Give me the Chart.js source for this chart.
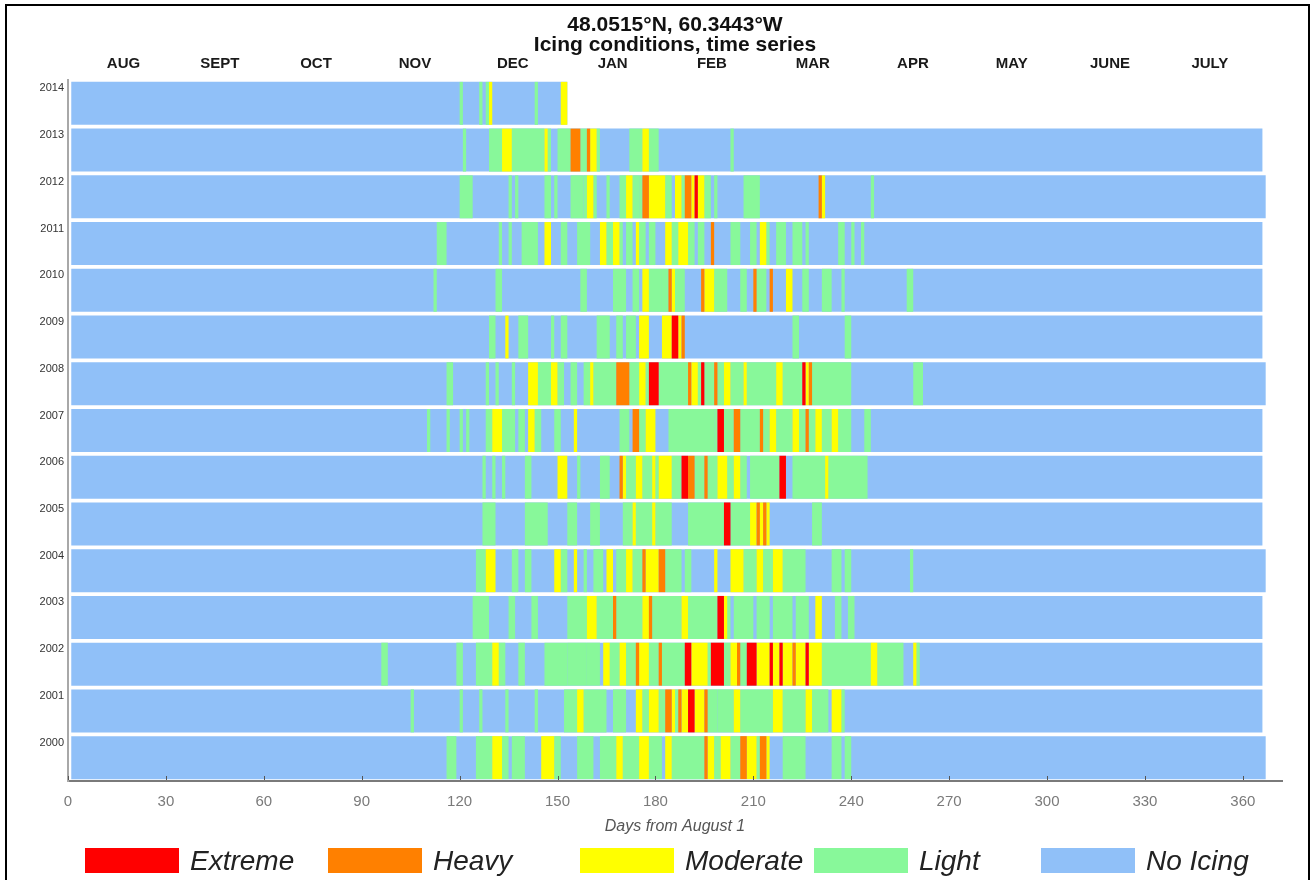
<!DOCTYPE html>
<html>
<head>
<meta charset="utf-8">
<title>Icing conditions, time series</title>
<script src="https://cdn.jsdelivr.net/npm/chart.js@4.4.1/dist/chart.umd.min.js"></script>
<style>
  html, body { margin: 0; padding: 0; background: #fff; }
  #wrap { position: relative; width: 1315px; height: 880px; overflow: hidden; }
  #wrap canvas { position: absolute; left: 0; top: 0; }
  #frame { position: absolute; left: 5px; top: 4px; width: 1305px; height: 920px;
           border: 2px solid #000; box-sizing: border-box; pointer-events: none; }
</style>
</head>
<body>
<div id="wrap">
  <canvas id="chart" width="1315" height="880"></canvas>
  <div id="frame"></div>
</div>
<script>
// Season rows, top to bottom (season starting 1 August of that year)
const years = ['2014', '2013', '2012', '2011', '2010', '2009', '2008', '2007',
               '2006', '2005', '2004', '2003', '2002', '2001', '2000'];
// Last day (exclusive) covered by each season's record
const seasonEnd = [153, 366, 367, 366, 366, 366, 367, 366, 366, 366, 367, 366, 366, 366, 367];

// Icing runs per season: [first day, number of days, level]
// level 1 = Light, 2 = Moderate, 3 = Heavy, 4 = Extreme
const icing2014 = [[120,1,1],[126,1,1],[128,1,1],[129,1,2],[143,1,1],[151,2,2]];
const icing2013 = [[121,1,1],[129,4,1],[133,3,2],[136,10,1],[146,1,2],[147,1,1],[150,4,1],[154,3,3],
  [157,2,1],[159,1,3],[160,2,2],[162,1,1],[172,4,1],[176,2,2],[178,3,1],[203,1,1]];
const icing2012 = [[120,4,1],[135,1,1],[137,1,1],[146,2,1],[149,1,1],[154,4,1],[158,1,1],[159,2,2],
  [161,1,1],[165,1,1],[169,2,1],[171,2,2],[173,2,1],[175,1,1],[176,2,3],[178,5,2],[183,2,1],[186,2,2],
  [188,1,1],[189,2,3],[191,1,2],[192,1,4],[193,2,2],[195,2,1],[198,1,1],[207,5,1],[230,1,3],[231,1,2],
  [246,1,1]];
const icing2011 = [[113,3,1],[132,1,1],[135,1,1],[139,5,1],[146,2,2],[151,2,1],[156,4,1],[163,2,2],
  [165,2,1],[167,2,2],[169,1,1],[171,2,1],[174,1,2],[175,2,1],[178,2,1],[183,2,2],[185,2,1],[187,3,2],
  [190,2,1],[193,2,1],[197,1,3],[203,3,1],[209,2,1],[212,2,2],[214,1,1],[217,3,1],[222,3,1],[226,1,1],
  [236,2,1],[240,1,1],[243,1,1]];
const icing2010 = [[112,1,1],[131,2,1],[157,2,1],[167,4,1],[173,2,1],[176,2,2],[178,4,1],[182,2,1],
  [184,1,3],[185,1,2],[186,3,1],[194,1,3],[195,3,2],[198,4,1],[206,2,1],[210,1,3],[211,3,1],[215,1,3],
  [220,2,2],[225,2,1],[231,3,1],[237,1,1],[257,2,1]];
const icing2009 = [[129,2,1],[134,1,2],[138,3,1],[148,1,1],[151,2,1],[162,4,1],[168,2,1],[171,3,1],
  [175,3,2],[182,3,2],[185,2,4],[187,1,2],[188,1,3],[222,2,1],[238,2,1]];
const icing2008 = [[116,2,1],[128,1,1],[131,1,1],[136,1,1],[141,3,2],[144,4,1],[148,2,2],[150,2,1],
  [154,2,1],[158,2,1],[160,1,2],[161,7,1],[168,4,3],[172,3,1],[175,2,2],[177,1,1],[178,3,4],[181,9,1],
  [190,1,3],[191,2,2],[193,1,1],[194,1,4],[195,3,1],[198,1,3],[199,2,1],[201,2,2],[203,4,1],[207,1,2],
  [208,9,1],[217,2,2],[219,6,1],[225,1,4],[226,1,2],[227,1,3],[228,12,1],[259,3,1]];
const icing2007 = [[110,1,1],[116,1,1],[120,1,1],[122,1,1],[128,2,1],[130,3,2],[133,4,1],[138,2,1],
  [141,2,2],[143,2,1],[149,2,1],[155,1,2],[169,3,1],[173,2,3],[175,2,1],[177,3,2],[184,14,1],[198,1,1],
  [199,2,4],[201,3,1],[204,2,3],[206,6,1],[212,1,3],[213,2,1],[215,2,2],[217,5,1],[222,2,2],[224,2,1],
  [226,1,3],[227,2,1],[229,2,2],[231,3,1],[234,2,2],[236,4,1],[244,2,1]];
const icing2006 = [[127,1,1],[130,1,1],[133,1,1],[140,2,1],[150,3,2],[156,1,1],[163,3,1],[169,1,3],
  [170,1,2],[171,3,1],[174,2,2],[176,3,1],[179,1,2],[180,1,1],[181,4,2],[185,3,1],[188,2,4],[190,2,3],
  [192,3,1],[195,1,3],[196,3,1],[199,3,2],[202,2,1],[204,2,2],[206,2,1],[209,9,1],[218,2,4],[222,10,1],
  [232,1,2],[233,12,1]];
const icing2005 = [[127,4,1],[140,7,1],[153,3,1],[160,3,1],[170,3,1],[173,1,2],[174,5,1],[179,1,2],
  [180,5,1],[190,11,1],[201,2,4],[203,6,1],[209,2,2],[211,1,3],[212,1,2],[213,1,3],[214,1,2],[228,3,1]];
const icing2004 = [[125,3,1],[128,3,2],[136,2,1],[140,2,1],[149,2,2],[151,2,1],[155,1,2],[158,1,1],
  [161,3,1],[165,2,2],[168,3,1],[171,2,2],[173,3,1],[176,1,3],[177,4,2],[181,2,3],[183,5,1],[189,2,1],
  [198,1,2],[203,4,2],[207,4,1],[211,2,2],[213,3,1],[216,3,2],[219,7,1],[234,3,1],[238,2,1],[258,1,1]];
const icing2003 = [[124,5,1],[135,2,1],[142,2,1],[153,6,1],[159,3,2],[162,5,1],[167,1,3],[168,8,1],
  [176,2,2],[178,1,3],[179,9,1],[188,2,2],[190,9,1],[199,2,4],[201,1,2],[202,1,1],[204,6,1],[211,4,1],
  [216,6,1],[223,4,1],[229,2,2],[235,2,1],[239,2,1]];
const icing2002 = [[96,2,1],[119,2,1],[125,5,1],[130,2,2],[132,2,1],[138,2,1],[146,7,1],[153,6,1],
  [159,4,1],[164,2,2],[166,3,1],[169,2,2],[171,3,1],[174,1,3],[175,3,2],[178,3,1],[181,1,3],[182,7,1],
  [189,2,4],[191,5,2],[196,1,1],[197,4,4],[201,2,1],[203,2,2],[205,1,3],[206,2,1],[208,3,4],[211,4,2],
  [215,1,4],[216,2,2],[218,1,4],[219,3,2],[222,1,3],[223,3,2],[226,1,4],[227,4,2],[231,15,1],[246,2,2],
  [248,8,1],[259,1,2],[260,1,1]];
const icing2001 = [[105,1,1],[120,1,1],[126,1,1],[134,1,1],[143,1,1],[152,4,1],[156,2,2],[158,7,1],
  [167,4,1],[174,2,2],[176,2,1],[178,3,2],[181,2,1],[183,2,3],[185,1,2],[186,1,1],[187,1,3],[188,2,2],
  [190,2,4],[192,3,2],[195,1,3],[196,3,1],[199,5,1],[204,2,2],[206,10,1],[216,3,2],[219,7,1],[226,2,2],
  [228,5,1],[234,3,2],[237,1,1]];
const icing2000 = [[116,3,1],[125,5,1],[130,3,2],[133,2,1],[136,4,1],[145,4,2],[149,2,1],[156,5,1],
  [163,5,1],[168,2,2],[170,5,1],[175,3,2],[178,4,1],[183,2,2],[185,10,1],[195,1,3],[196,2,2],[198,2,1],
  [200,3,2],[203,3,1],[206,2,3],[208,3,2],[211,1,1],[212,2,3],[214,1,2],[219,7,1],[234,3,1],[238,2,1]];

const seasonRuns = [icing2014, icing2013, icing2012, icing2011, icing2010, icing2009, icing2008, icing2007,
                    icing2006, icing2005, icing2004, icing2003, icing2002, icing2001, icing2000];

// Axis labelling
const dayTicks = [0, 30, 60, 90, 120, 150, 180, 210, 240, 270, 300, 330, 360];
const monthNames = ['AUG', 'SEPT', 'OCT', 'NOV', 'DEC', 'JAN', 'FEB', 'MAR', 'APR', 'MAY', 'JUNE', 'JULY'];
const monthDays = [17, 46.5, 76, 106.3, 136.3, 166.9, 197.3, 228.2, 258.9, 289.2, 319.3, 349.9];
const titleLines = ['48.0515\u00b0N, 60.3443\u00b0W', 'Icing conditions, time series'];

const levelColors = { 1: '#88f89a', 2: '#ffff00', 3: '#ff8000', 4: '#ff0000' };
const noIcingColor = '#90c0f8';
const FONT = '"Liberation Sans", Arial, Helvetica, sans-serif';

function runsAtLevel(level) {
  const out = [];
  years.forEach((yr, i) => {
    seasonRuns[i].forEach(([start, days, lv]) => {
      if (lv === level) out.push({ x: [start, start + days], y: yr });
    });
  });
  return out;
}

const barStyle = { grouped: false, barPercentage: 0.92, categoryPercentage: 1, borderWidth: 0 };

// Titles, month names, inward tick marks and the legend strip
const decorations = {
  id: 'decorations',
  afterDraw(chart) {
    const { ctx, chartArea, scales: { x } } = chart;
    ctx.save();
    const cx = (chartArea.left + chartArea.right) / 2;
    ctx.fillStyle = '#111';
    ctx.textAlign = 'center';
    ctx.textBaseline = 'middle';
    ctx.font = 'bold 21px ' + FONT;
    titleLines.forEach((t, i) => ctx.fillText(t, cx, 25 + i * 20));

    ctx.font = 'bold 15px ' + FONT;
    ctx.fillStyle = '#1a1a1a';
    monthNames.forEach((m, i) => ctx.fillText(m, x.getPixelForValue(monthDays[i]), 64));

    ctx.strokeStyle = '#555';
    ctx.lineWidth = 1;
    dayTicks.forEach(v => {
      const px = Math.round(x.getPixelForValue(v)) + 0.5;
      ctx.beginPath();
      ctx.moveTo(px, chartArea.bottom - 1);
      ctx.lineTo(px, chartArea.bottom - 5);
      ctx.stroke();
    });

    const slots = [85, 328, 580, 814, 1041];
    ctx.textAlign = 'left';
    ctx.font = 'italic 28px ' + FONT;
    chart.data.datasets.forEach((ds, i) => {
      ctx.fillStyle = ds.backgroundColor;
      ctx.fillRect(slots[i], 848, 94, 25);
      ctx.fillStyle = '#222';
      ctx.fillText(ds.label, slots[i] + 105, 862);
    });
    ctx.restore();
  }
};

Chart.defaults.font.family = FONT;

new Chart(document.getElementById('chart'), {
  type: 'bar',
  data: {
    labels: years,
    datasets: [
      { label: 'Extreme', data: runsAtLevel(4), backgroundColor: levelColors[4], ...barStyle },
      { label: 'Heavy', data: runsAtLevel(3), backgroundColor: levelColors[3], ...barStyle },
      { label: 'Moderate', data: runsAtLevel(2), backgroundColor: levelColors[2], ...barStyle },
      { label: 'Light', data: runsAtLevel(1), backgroundColor: levelColors[1], ...barStyle },
      { label: 'No Icing', data: years.map((yr, i) => ({ x: [1, seasonEnd[i]], y: yr })),
        backgroundColor: noIcingColor, ...barStyle }
    ]
  },
  options: {
    indexAxis: 'y',
    responsive: false,
    animation: false,
    devicePixelRatio: 1,
    layout: { padding: { left: 0, right: 33, top: 80, bottom: 44 } },
    plugins: { legend: { display: false }, tooltip: { enabled: false }, title: { display: false } },
    scales: {
      x: {
        type: 'linear', position: 'bottom', min: 0, max: 372,
        grid: { display: false, drawTicks: false },
        border: { display: true, color: '#7a7a7a', width: 2 },
        afterBuildTicks(scale) { scale.ticks = dayTicks.map(v => ({ value: v })); },
        ticks: { color: '#7a7a7a', font: { size: 15 }, padding: 12 },
        title: { display: true, text: 'Days from August 1', color: '#555',
                 font: { size: 16, style: 'italic' }, padding: { top: 2, bottom: 0 } },
        afterFit(scale) { scale.height = 55; }
      },
      y: {
        type: 'category', position: 'left', offset: true,
        grid: { display: false, drawTicks: false },
        border: { display: true, color: '#a8a8a8', width: 2 },
        ticks: { color: '#333', font: { size: 11 }, padding: 4, labelOffset: -15, autoSkip: false },
        afterFit(scale) { scale.width = 68; }
      }
    }
  },
  plugins: [decorations]
});
</script>
</body>
</html>
